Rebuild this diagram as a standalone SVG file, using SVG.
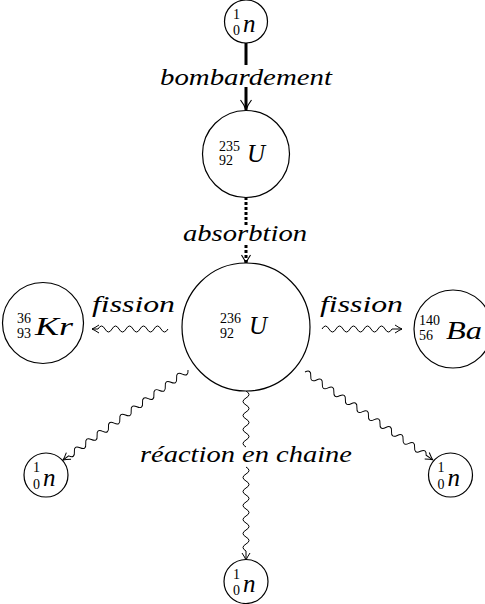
<svg xmlns="http://www.w3.org/2000/svg" width="485" height="604" viewBox="0 0 485 604">
<style>
.nd{fill:#fff;stroke:#000;stroke-width:1.2}
.lab{font-style:italic;font-size:23px}
.big{font-style:italic;font-size:25px}
.sc{font-size:14px}
.wv{fill:none;stroke:#000;stroke-width:1}
</style>
<defs>
<marker id="to" markerWidth="10" markerHeight="10" viewBox="-8 -5 10 10" refX="0" refY="0" orient="auto" markerUnits="userSpaceOnUse" overflow="visible">
<path d="M-7,-4 Q-2.5,-1 0,0 Q-2.5,1 -7,4" fill="none" stroke="#000" stroke-width="1"/>
</marker>
</defs>
<rect width="485" height="604" fill="#fff"/>
<g font-family="Liberation Serif, DejaVu Serif, Times New Roman, serif" fill="#000">
<g id="connectors">
<path d="M246,43 V65 M246,87 V110" fill="none" stroke="#000" stroke-width="3"/>
<path d="M240.5,100 Q244.5,105 246,110 Q247.5,105 251.5,100" fill="none" stroke="#000" stroke-width="1.2"/>
<path d="M246,197 V225 M246,245 V264" fill="none" stroke="#000" stroke-width="3" stroke-dasharray="3 2"/>
<path d="M241.5,255 Q245,260 246,264 Q247,260 250.5,255" fill="none" stroke="#000" stroke-width="1.2"/>
<path class="wv" marker-end="url(#to)" transform="translate(168,329) rotate(180)" d="M0,0 q3.5,-6 7,0 t7,0 t7,0 t7,0 t7,0 t7,0 t7,0 t7,0 t7,0 t7,0 l6,0"/>
<path class="wv" marker-end="url(#to)" transform="translate(322,329)" d="M0,0 q3.5,-6 7,0 t7,0 t7,0 t7,0 t7,0 t7,0 t7,0 t7,0 t7,0 t7,0 l10,0"/>
<path class="wv" marker-end="url(#to)" transform="translate(188,370) rotate(144.25)" d="M0,0 q3.5,-6 7,0 t7,0 t7,0 t7,0 t7,0 t7,0 t7,0 t7,0 t7,0 t7,0 t7,0 t7,0 t7,0 t7,0 t7,0 t7,0 t7,0 t7,0 t7,0 t7,0 t7,0 l7,0"/>
<path class="wv" marker-end="url(#to)" transform="translate(305,372) rotate(34.5)" d="M0,0 q3.5,-6 7,0 t7,0 t7,0 t7,0 t7,0 t7,0 t7,0 t7,0 t7,0 t7,0 t7,0 t7,0 t7,0 t7,0 t7,0 t7,0 t7,0 t7,0 t7,0 t7,0 t7,0 l8,0"/>
<path class="wv" transform="translate(246,391) rotate(90)" d="M0,0 q3.5,-6 7,0 t7,0 t7,0 t7,0 t7,0 t7,0 t7,0 t7,0"/>
<path class="wv" marker-end="url(#to)" transform="translate(246,467) rotate(90)" d="M0,0 q3.5,-6 7,0 t7,0 t7,0 t7,0 t7,0 t7,0 t7,0 t7,0 t7,0 t7,0 t7,0 t7,0 l9,0"/>
<text class="lab" x="246" y="85" text-anchor="middle" textLength="172" lengthAdjust="spacingAndGlyphs">bombardement</text>
<text class="lab" x="245" y="241" text-anchor="middle" textLength="124" lengthAdjust="spacingAndGlyphs">absorbtion</text>
<text class="lab" x="133.5" y="312" text-anchor="middle" textLength="83" lengthAdjust="spacingAndGlyphs">fission</text>
<text class="lab" x="361.5" y="312" text-anchor="middle" textLength="83" lengthAdjust="spacingAndGlyphs">fission</text>
<text class="lab" x="246" y="462" text-anchor="middle" textLength="212" lengthAdjust="spacingAndGlyphs">réaction en chaine</text>
</g>
<g id="n_top">
<circle class="nd" cx="246" cy="21.5" r="21.5"/>
<text class="sc" x="233" y="19">1</text><text class="sc" x="233" y="35">0</text>
<text class="big" x="243" y="32">n</text>
</g>
<g id="U235">
<circle class="nd" cx="246" cy="154" r="43.5"/>
<text class="sc" x="219" y="150.5">235</text><text class="sc" x="219" y="165">92</text>
<text class="big" x="247" y="162">U</text>
</g>
<g id="U236">
<circle class="nd" cx="246" cy="327" r="64"/>
<text class="sc" x="220" y="323">236</text><text class="sc" x="220" y="338">92</text>
<text class="big" x="249" y="334">U</text>
</g>
<g id="Kr">
<circle class="nd" cx="43" cy="323" r="40.5"/>
<text class="sc" x="17" y="323">36</text><text class="sc" x="17" y="337.5">93</text>
<text class="big" x="35" y="335" textLength="38" lengthAdjust="spacingAndGlyphs">Kr</text>
</g>
<g id="Ba">
<circle class="nd" cx="453" cy="329" r="39"/>
<text class="sc" x="419" y="325">140</text><text class="sc" x="419" y="340">56</text>
<text class="big" x="446" y="339" textLength="36" lengthAdjust="spacingAndGlyphs">Ba</text>
</g>
<g id="n_left">
<circle class="nd" cx="46" cy="475" r="22"/>
<text class="sc" x="33" y="472">1</text><text class="sc" x="33" y="488.5">0</text>
<text class="big" x="43" y="485.5">n</text>
</g>
<g id="n_right">
<circle class="nd" cx="450.5" cy="475" r="22"/>
<text class="sc" x="437.5" y="472">1</text><text class="sc" x="437.5" y="488.5">0</text>
<text class="big" x="447.5" y="485.5">n</text>
</g>
<g id="n_bottom">
<circle class="nd" cx="246" cy="581.5" r="22"/>
<text class="sc" x="233" y="578.5">1</text><text class="sc" x="233" y="595">0</text>
<text class="big" x="243" y="592">n</text>
</g>
</g>
</svg>
